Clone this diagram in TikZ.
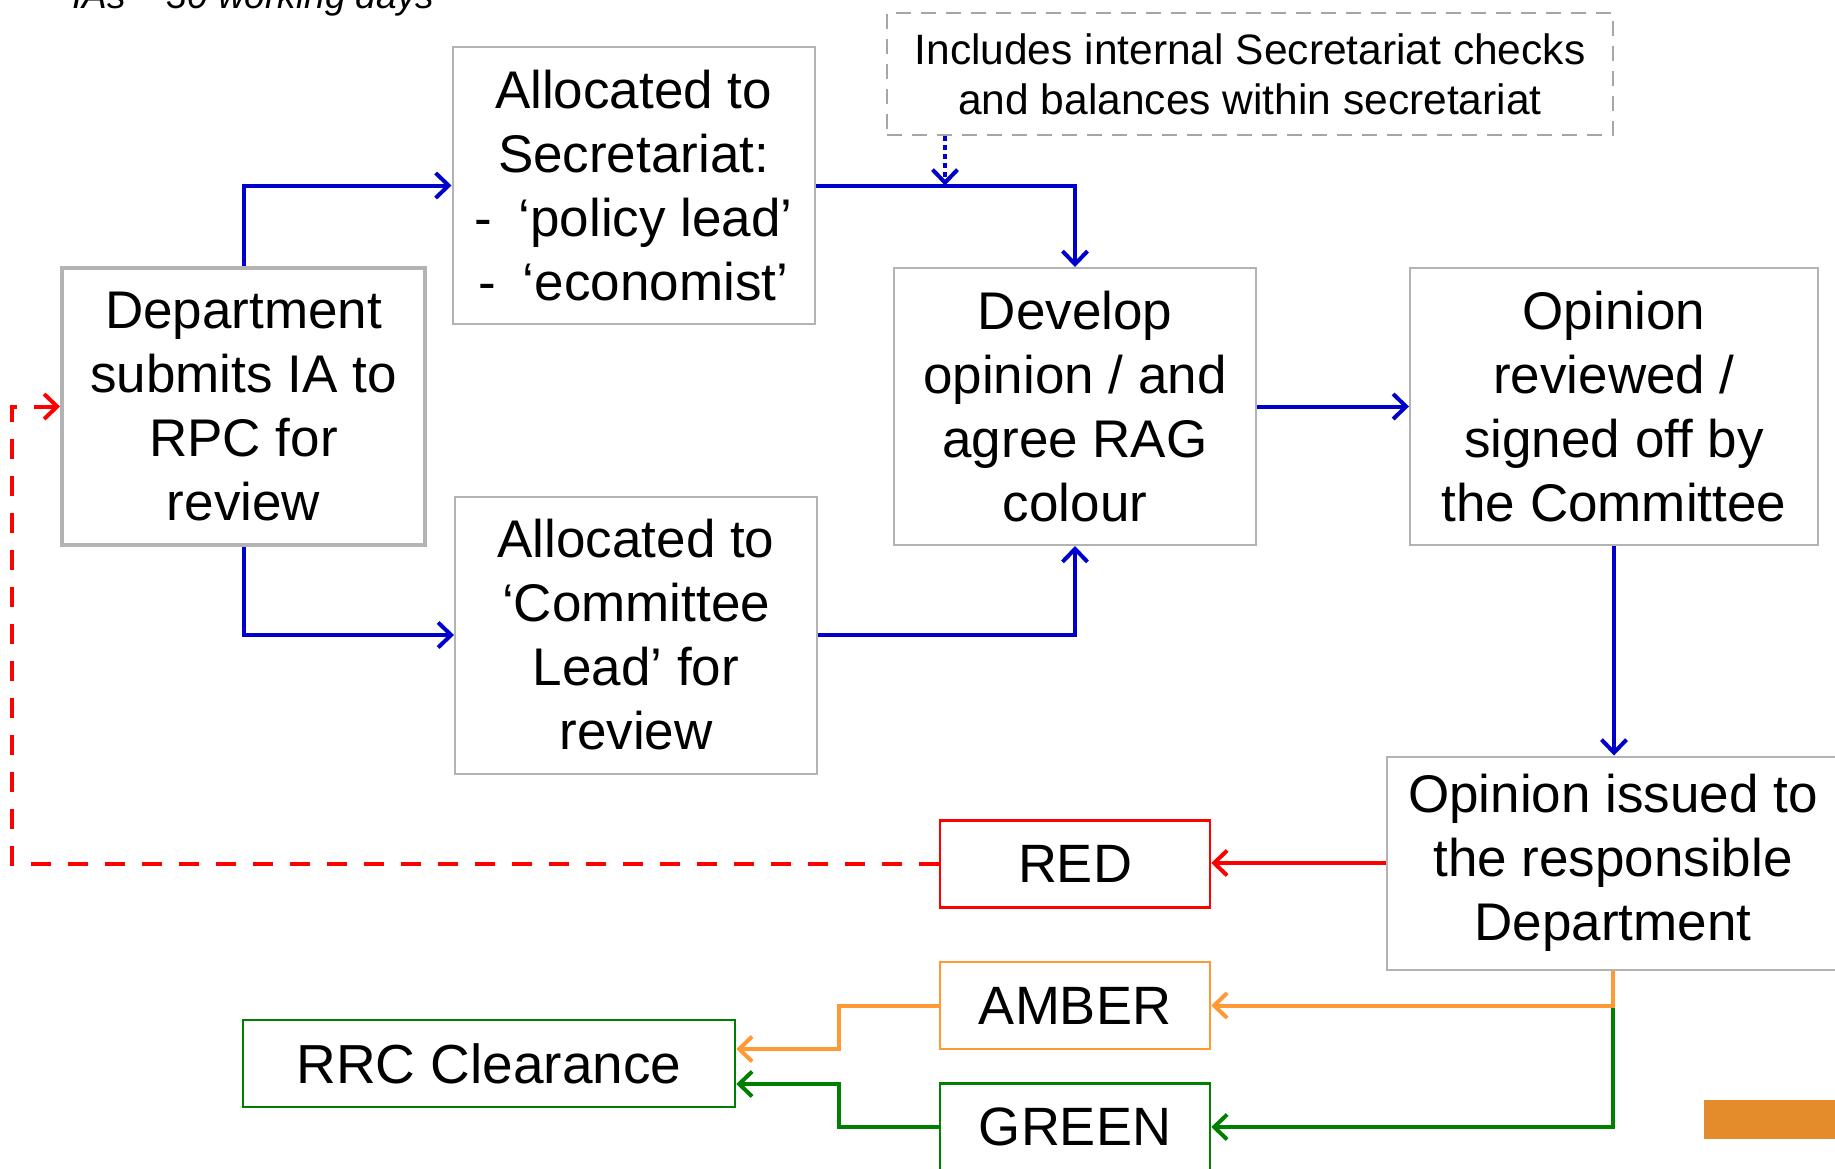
\documentclass[tikz,border=0pt]{standalone}
\usepackage{fontspec}
\setmainfont{Liberation Sans}
\usetikzlibrary{positioning, arrows.meta, calc}
\definecolor{flowblue}{HTML}{0000CC}
\definecolor{boxgray}{HTML}{B3B3B3}
\definecolor{dashgray}{HTML}{A6A6A6}
\definecolor{ragred}{HTML}{FF0000}
\definecolor{ragamber}{HTML}{FF9933}
\definecolor{raggreen}{HTML}{008000}
\definecolor{decoorange}{HTML}{E48B2C}

\begin{document}
\begin{tikzpicture}[x=1pt, y=-1pt,
    box/.style={rectangle, draw=boxgray, line width=2pt, minimum width=362pt, minimum height=277pt, inner sep=0pt, align=center, font=\fontsize{53}{64}\selectfont},
    checkbox/.style={rectangle, draw=dashgray, line width=2pt, dash pattern=on 15pt off 10pt, inner sep=0pt, align=center, font=\fontsize{42.5}{50}\selectfont},
    ragbox/.style={rectangle, line width=2.5pt, minimum width=270pt, minimum height=87pt, inner sep=0pt, text centered, font=\fontsize{54}{64}\selectfont},
    note/.style={font=\fontsize{37}{44}\selectfont\itshape},
    arrow/.style={line width=4pt, draw=flowblue, -{Straight Barb[length=13pt, width=25pt]}},
]
\clip (0,0) rectangle (1835,1168);

% Heading, cut at the top
\node[note, anchor=base west, inner sep=0pt] (days) at (72,8) {IAs – 30 working days};

% Process boxes
\node[box, line width=4pt, minimum width=363pt] (dept) at (243.5,406.5) {Department\\submits IA to\\RPC for\\review};
\node[box] (secr) at (633.5,185.5) {Allocated to\\Secretariat:\\-\enspace‘policy lead’\\-\enspace‘economist’};
\node[box] (comm) at (636,635) {Allocated to\\‘Committee\\Lead’ for\\review};
\node[box] (dev) at (1075,406.5) {Develop\\opinion / and\\agree RAG\\colour};
\node[box, minimum width=408pt] (rev) at (1614,406.5) {Opinion\\reviewed /\\signed off by\\the Committee};
\node[box, minimum width=452pt, minimum height=213pt] (issued) at (1613,863) {Opinion issued to\\the responsible\\Department};
\node[checkbox, minimum width=726pt, minimum height=122pt] (incl) at (1250,74) {Includes internal Secretariat checks\\and balances within secretariat};

% RAG outcomes
\node[ragbox, draw=ragred] (red) at (1075,864) {RED};
\node[ragbox, draw=ragamber, below=52pt of red] (amber) {AMBER};
\node[ragbox, draw=raggreen, below=32pt of amber] (green) {GREEN};
\node[ragbox, draw=raggreen, minimum width=492pt, font=\fontsize{55}{64}\selectfont] (rrc) at (489,1063.5) {RRC Clearance};

% Arrows for allocation
\draw[arrow] (dept.north) |- (secr.west);
\draw[arrow] (dept.south) |- (comm.west);
\draw[arrow] (secr.east) -| (dev.north);
\draw[arrow] (comm.east) -| (dev.south);
\coordinate (tap) at ([xshift=59pt]incl.south west);
\draw[arrow, dash pattern=on 5pt off 4pt] (tap) -- (tap |- secr.east);

% Arrows for opinion
\draw[arrow] (dev.east) -- (rev.west);
\draw[arrow] (rev.south) -- (rev.south |- issued.north);
\draw[arrow, ragred] (issued.west) -- (issued.west -| red.east);
\coordinate (back) at ([xshift=-48pt]dept.west);
\draw[arrow, ragred, dash pattern=on 20pt off 17pt] (red.west) -| (back) -- (dept.west);
\draw[arrow, raggreen] (issued.south) |- (green.east);
\draw[arrow, ragamber] (issued.south) |- (amber.east);

% Arrows to clearance
\draw[arrow, ragamber] (amber.west) -- ++(-100,0) |- ([yshift=14.5pt]rrc.east);
\draw[arrow, raggreen] (green.west) -- ++(-100,0) |- ([yshift=-20.5pt]rrc.east);

% Corner mark
\fill[decoorange] (1704,1100) rectangle (1835,1139);
\end{tikzpicture}
\end{document}
